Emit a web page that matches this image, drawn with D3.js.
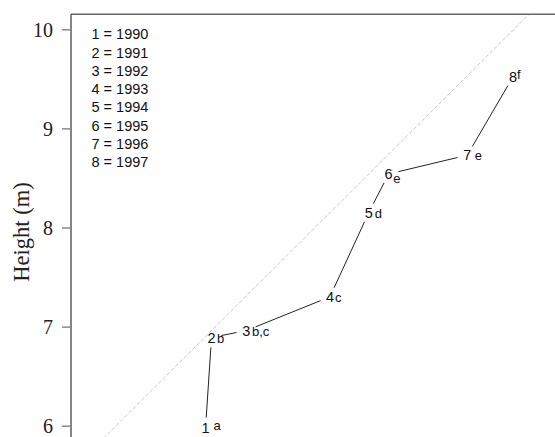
<!DOCTYPE html>
<html>
<head>
<meta charset="utf-8">
<script src="https://cdn.jsdelivr.net/npm/d3@7"></script>
<style>
  html, body { margin: 0; padding: 0; background: #fff; }
  svg { display: block; }
</style>
</head>
<body>
<svg id="chart" width="555" height="437"></svg>
<script>
// Year index drawn at each point, the year it stands for, and its group letter
const yearIndex = [1, 2, 3, 4, 5, 6, 7, 8];
const years = [1990, 1991, 1992, 1993, 1994, 1995, 1996, 1997];
const groups = ["a", "b", "b,c", "c", "d", "e", "e", "f"];
// Height in the following year (horizontal) and height in the year itself (vertical), m
const nextHeight = [6.90, 6.96, 7.31, 8.15, 8.54, 8.74, 9.53, 9.99];
const height = [5.98, 6.89, 6.96, 7.30, 8.15, 8.54, 8.73, 9.52];
const yTicks = [6, 7, 8, 9, 10];

// Placement of each group letter relative to its year number (pixels)
const letterOffset = [
  { dx: 8, dy: -2.5 }, { dx: 5.5, dy: 0 }, { dx: 5.7, dy: 0 }, { dx: 5, dy: 0 },
  { dx: 6, dy: 0 }, { dx: 4.5, dy: 4 }, { dx: 7.5, dy: 0 }, { dx: 4, dy: -3 }
];

const svg = d3.select("#chart");
const W = 555, H = 437;
const plotLeft = 71, plotTop = 14.3;

const x = d3.scaleLinear().domain([6, 10]).range([116, 514]);
const y = d3.scaleLinear().domain([6, 10]).range([425.7, 29.3]);

svg.append("defs").append("clipPath").attr("id", "plotArea")
  .append("rect").attr("x", plotLeft).attr("y", plotTop)
  .attr("width", W - plotLeft).attr("height", H - plotTop);

// 1:1 reference line
const ref = [5.4, 10.6];
svg.append("line")
  .attr("clip-path", "url(#plotArea)")
  .attr("x1", x(ref[0])).attr("y1", y(ref[0]))
  .attr("x2", x(ref[1])).attr("y2", y(ref[1]))
  .attr("stroke", "#c8c8c8").attr("stroke-width", 1)
  .attr("stroke-dasharray", "4,2");

// Frame
svg.append("line").attr("x1", plotLeft).attr("x2", W).attr("y1", plotTop).attr("y2", plotTop)
  .attr("stroke", "#666").attr("stroke-width", 1.6);
svg.append("line").attr("x1", plotLeft).attr("x2", plotLeft).attr("y1", plotTop).attr("y2", H)
  .attr("stroke", "#333").attr("stroke-width", 1.2);

// Y axis
const yAxis = d3.axisLeft(y).tickValues(yTicks).tickSize(9).tickPadding(9).tickFormat(d3.format("d"));
const gy = svg.append("g").attr("transform", `translate(${plotLeft},0)`).call(yAxis);
gy.select(".domain").remove();
gy.selectAll(".tick line").attr("stroke", "#888").attr("stroke-width", 1.5);
gy.selectAll(".tick text")
  .attr("font-family", "'Liberation Serif', 'Times New Roman', serif")
  .attr("font-size", 20).attr("fill", "#222").attr("dy", "0.36em");

svg.append("text")
  .attr("transform", "translate(29,232) rotate(-90)")
  .attr("text-anchor", "middle")
  .attr("font-family", "'Liberation Serif', 'Times New Roman', serif")
  .attr("font-size", 22.5).attr("fill", "#222")
  .text("Height (m)");

// Points
const pts = yearIndex.map((k, i) => ({
  k, year: years[i], g: groups[i], px: x(nextHeight[i]), py: y(height[i]), off: letterOffset[i]
}));

// Connecting segments, stopped short of the labels
const gap = 10;
function trimmed(a, b) {
  const L = Math.hypot(b.px - a.px, b.py - a.py);
  const ux = (b.px - a.px) / L, uy = (b.py - a.py) / L;
  return { x1: a.px + ux * gap, y1: a.py + uy * gap, x2: b.px - ux * gap, y2: b.py - uy * gap };
}
const segs = d3.pairs(pts).map(([a, b]) => trimmed(a, b));
svg.append("g").selectAll("line").data(segs).join("line")
  .attr("x1", d => d.x1).attr("y1", d => d.y1)
  .attr("x2", d => d.x2).attr("y2", d => d.y2)
  .attr("stroke", "#222").attr("stroke-width", 1);

const sans = "'Liberation Sans', Arial, sans-serif";
const digitSize = 14.5;
svg.append("g").selectAll("text").data(pts).join("text")
  .attr("x", d => d.px).attr("y", d => d.py + 0.358 * digitSize)
  .attr("text-anchor", "middle")
  .attr("font-family", sans).attr("font-size", digitSize).attr("fill", "#111")
  .text(d => d.k);

svg.append("g").selectAll("text").data(pts).join("text")
  .attr("x", d => d.px + d.off.dx).attr("y", d => d.py + 0.358 * digitSize + d.off.dy)
  .attr("font-family", sans).attr("font-size", 13).attr("fill", "#111")
  .text(d => d.g);

// Year key
svg.append("g").selectAll("text").data(pts).join("text")
  .attr("x", 91.5).attr("y", (d, i) => 39.2 + i * 18.3)
  .attr("font-family", sans).attr("font-size", 14.5).attr("fill", "#111")
  .text(d => `${d.k} = ${d.year}`);
</script>
</body>
</html>
